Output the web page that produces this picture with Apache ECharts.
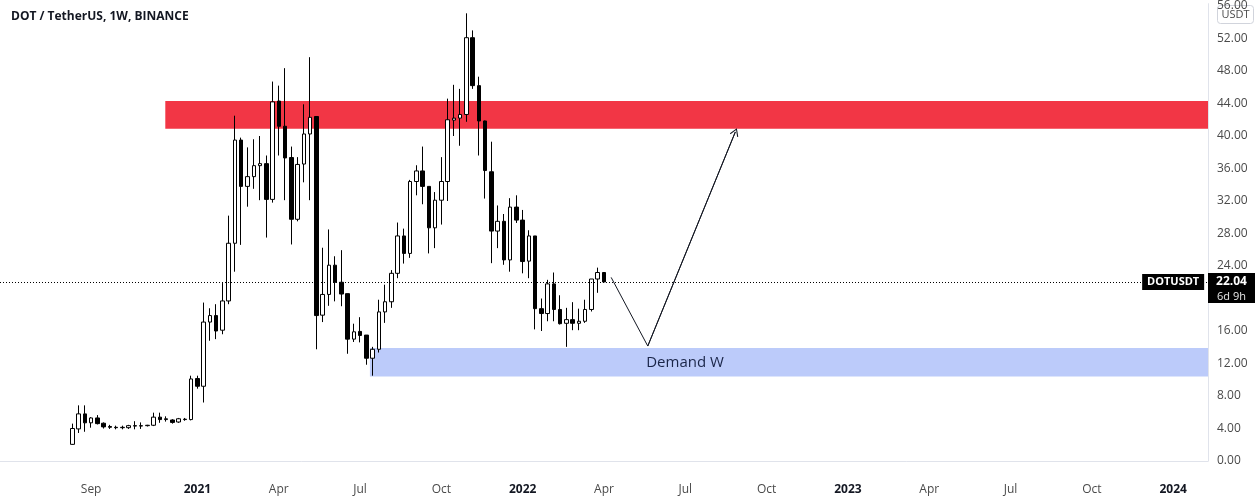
<!DOCTYPE html>
<html>
<head>
<meta charset="utf-8">
<title>DOT / TetherUS, 1W, BINANCE</title>
<script src="https://cdn.jsdelivr.net/npm/echarts@6/dist/echarts.min.js"></script>
<style>
  html, body { margin: 0; padding: 0; background: #fff; }
  #chart { width: 1260px; height: 504px; }
</style>
</head>
<body>
<div id="chart"></div>
<script>
// weekly candles, the first one opens on this Monday
const firstWeek = '2020-08-17';

const opens = [2.05, 3.95, 5.8, 4.7, 5.3, 4.65, 4.25, 4.15, 4.1, 4.1, 4.35, 4.3, 4.35, 4.4, 5.4, 5.1, 5.05, 4.8, 5.15, 5.1,
  10.15, 9.2, 17.1, 17.9, 16.1, 19.7, 26.8, 39.5, 33.8, 35.0,
  36.35, 36.6, 32.2, 44.3, 41.2, 37.35, 29.75, 36.55, 40.25, 42.4,
  17.95, 20.5, 24.1, 22.0, 20.6, 15.0, 15.95, 15.5, 12.65, 13.75,
  18.35, 19.6, 23.1, 27.7, 25.55, 34.4, 35.7, 33.8, 28.7, 32.1,
  34.4, 41.95, 42.2, 42.65, 52.1, 46.2, 41.85, 35.6, 28.3, 29.5,
  24.75, 31.25, 29.65, 24.6, 27.7, 18.75, 18.15, 21.8, 18.65, 16.95,
  17.4, 16.95, 17.2, 18.65, 22.4, 23.2];
const closes = [4.0, 5.8, 4.7, 5.3, 4.6, 4.2, 4.15, 4.1, 4.15, 4.35, 4.3, 4.35, 4.4, 5.4, 5.1, 5.2, 4.75, 5.2, 5.1, 10.1,
  9.2, 17.1, 17.9, 16.0, 19.7, 26.8, 39.5, 33.8, 35.0, 36.35,
  36.6, 32.2, 44.2, 41.2, 37.3, 29.75, 36.5, 40.25, 42.3, 17.9,
  20.5, 24.1, 22.0, 20.55, 15.0, 15.9, 15.45, 12.65, 13.75, 18.35,
  19.6, 23.1, 27.7, 25.55, 34.4, 35.7, 33.8, 28.7, 32.1, 34.4,
  42.0, 42.2, 42.65, 52.1, 46.2, 41.85, 35.75, 28.3, 29.5, 24.75,
  31.25, 29.65, 24.55, 27.7, 18.75, 18.15, 21.8, 18.65, 16.9, 17.4,
  16.95, 17.2, 18.65, 22.4, 23.2, 22.04];
const lows = [2.0, 3.45, 3.6, 4.1, 4.5, 4.0, 3.95, 3.9, 3.9, 3.95, 3.9, 3.95, 4.25, 4.3, 4.7, 4.85, 4.6, 4.7, 4.95, 5.0,
  8.9, 7.2, 14.8, 15.0, 15.6, 19.3, 23.3, 26.6, 31.3, 33.5,
  32.1, 27.5, 31.8, 37.6, 32.1, 26.65, 29.5, 34.3, 32.1, 13.75,
  17.1, 19.1, 19.65, 19.05, 13.2, 14.65, 14.6, 11.85, 10.5, 13.35,
  17.0, 18.85, 22.5, 24.3, 25.0, 32.7, 31.6, 25.55, 26.2, 29.1,
  32.0, 40.0, 38.8, 41.75, 45.8, 37.6, 32.3, 24.35, 26.2, 24.15,
  23.3, 29.3, 23.1, 22.5, 16.2, 16.0, 17.2, 17.2, 16.8, 14.05,
  16.1, 16.1, 17.0, 18.4, 20.7, 22.0];
const highs = [4.6, 6.85, 6.85, 5.4, 5.65, 4.75, 4.45, 4.35, 4.35, 4.45, 4.9, 4.75, 4.45, 5.95, 5.95, 5.5, 5.15, 5.3, 5.3, 10.5,
  10.5, 19.5, 18.8, 19.3, 21.9, 30.2, 42.5, 39.8, 38.6, 39.6,
  40.0, 37.6, 46.7, 46.2, 48.35, 38.7, 37.4, 43.9, 49.7, 42.4,
  26.25, 28.5, 25.2, 25.95, 20.6, 16.9, 17.7, 15.5, 14.05, 19.85,
  21.7, 23.5, 29.35, 28.6, 34.6, 36.4, 38.7, 33.8, 33.1, 37.4,
  44.6, 46.3, 45.8, 55.1, 53.0, 47.3, 41.9, 39.3, 31.45, 30.4,
  32.35, 32.7, 30.9, 28.4, 27.7, 20.0, 22.3, 23.2, 20.4, 18.85,
  19.55, 18.75, 19.85, 22.4, 23.8, 23.2];

// time scale labels (first weekly bar of each month shown)
const tickDates = ['2020-09-07', '2021-01-04', '2021-04-05', '2021-07-05', '2021-10-04', '2022-01-03', '2022-04-04',
  '2022-07-04', '2022-10-03', '2023-01-02', '2023-04-03', '2023-07-03', '2023-10-02', '2024-01-01'];
const tickLabels = ['Sep', '2021', 'Apr', 'Jul', 'Oct', '2022', 'Apr', 'Jul', 'Oct', '2023', 'Apr', 'Jul', 'Oct', '2024'];

// drawings
const supplyZone = { from: '2020-11-29', to: '2024-02-09', low: 40.9, high: 44.3 };
const demandZone = { from: '2021-07-16', to: '2024-02-09', low: 10.4, high: 13.9, text: 'Demand W' };
const projection = [['2022-04-12', 22.6], ['2022-05-23', 14.15], ['2022-08-29', 40.5]];
const lastPrice = 22.04;
const countdown = '6d 9h';
const symbolName = 'DOTUSDT';

const day = s => { const p = s.split('-').map(Number); return Date.UTC(p[0], p[1] - 1, p[2]); };
const WEEK = 7 * 24 * 3600 * 1000;
const start = day(firstWeek);
const candles = opens.map((o, i) => [start + i * WEEK, o, closes[i], lows[i], highs[i]]);
const tickTimes = tickDates.map(day);

const FONT = '"Open Sans", "DejaVu Sans", sans-serif';
const ink = '#131722';

const chart = echarts.init(document.getElementById('chart'), null, { renderer: 'canvas' });

chart.setOption({
  animation: false,
  backgroundColor: '#ffffff',
  title: {
    text: 'DOT / TetherUS, 1W, BINANCE',
    left: 6, top: 6,
    textStyle: { fontFamily: FONT, fontSize: 12, fontWeight: 'bold', color: ink }
  },
  grid: { left: 0, right: 52, top: 0, bottom: 43 },
  xAxis: {
    type: 'value',
    min: day('2020-05-28'),
    max: day('2024-02-09'),
    offset: 17,
    splitLine: { show: false },
    axisTick: { show: false },
    axisLine: { lineStyle: { color: '#e0e3eb' } },
    axisLabel: {
      customValues: tickTimes,
      margin: 6,
      fontFamily: FONT, fontSize: 12, color: '#4a4a4a',
      formatter: v => {
        const i = tickTimes.indexOf(v);
        if (i < 0) return '';
        const t = tickLabels[i];
        return /^\d{4}$/.test(t) ? '{y|' + t + '}' : t;
      },
      rich: { y: { fontFamily: FONT, fontSize: 12, fontWeight: 'bold', color: ink } }
    }
  },
  yAxis: {
    type: 'value',
    position: 'right',
    min: 0,
    max: 56.29,
    interval: 4,
    splitLine: { show: false },
    axisTick: { show: false },
    axisLine: { show: true, lineStyle: { color: '#e0e3eb' } },
    axisLabel: {
      margin: 9,
      fontFamily: FONT, fontSize: 12, color: '#4a4a4a',
      formatter: v => (Math.abs(v % 4) < 1e-6 ? v.toFixed(2) : '')
    }
  },
  series: [
    {
      name: 'DOTUSDT',
      type: 'candlestick',
      barWidth: 4,
      data: candles,
      itemStyle: {
        color: '#ffffff', color0: '#000000',
        borderColor: '#000000', borderColor0: '#000000',
        borderWidth: 1
      },
      markArea: {
        silent: true,
        data: [
          [
            { coord: [day(supplyZone.from), supplyZone.high], itemStyle: { color: '#f23645' } },
            { coord: [day(supplyZone.to), supplyZone.low] }
          ],
          [
            {
              coord: [day(demandZone.from), demandZone.high],
              name: demandZone.text,
              itemStyle: { color: '#bccbfa' },
              label: {
                show: true, position: ['37.6%', '50%'], align: 'center', verticalAlign: 'middle',
                fontFamily: FONT, fontSize: 15, color: '#1a2548'
              }
            },
            { coord: [day(demandZone.to), demandZone.low] }
          ]
        ]
      },
      markLine: {
        silent: true,
        symbol: ['none', 'none'],
        data: [
          {
            yAxis: lastPrice,
            lineStyle: { color: '#000000', type: [1, 2], width: 1 },
            label: {
              show: true, position: 'end', distance: 0,
              formatter: '{s| }\n{p|' + lastPrice.toFixed(2) + '}\n{c|' + countdown + '}',
              rich: {
                s: { height: 12, lineHeight: 12 },
                p: { width: 47, height: 18, lineHeight: 18, align: 'center', backgroundColor: '#000',
                  color: '#fff', fontFamily: FONT, fontSize: 12, fontWeight: 'bold' },
                c: { width: 47, height: 12, lineHeight: 12, align: 'center', backgroundColor: '#000',
                  color: '#e6e6e6', fontFamily: FONT, fontSize: 11 }
              }
            }
          }
        ]
      },
      markPoint: {
        silent: true,
        data: [
          {
            coord: [tickTimes[tickTimes.length - 1], lastPrice],
            symbol: 'rect', symbolSize: [62, 16],
            itemStyle: { color: '#000000' },
            label: { show: true, position: 'inside', formatter: symbolName,
              fontFamily: FONT, fontSize: 11, fontWeight: 'bold', color: '#ffffff' }
          }
        ]
      }
    },
    {
      name: 'projection',
      type: 'line',
      data: projection.map(p => [day(p[0]), p[1]]),
      symbol: 'none',
      lineStyle: { color: ink, width: 1 },
      markLine: {
        silent: true,
        symbol: ['none', 'path://M5,0 L10,8 L9,8.8 L5,2.2 L1,8.8 L0,8 Z'],
        symbolSize: [9, 8],
        lineStyle: { color: ink, width: 1, type: 'solid' },
        label: { show: false },
        data: [[
          { coord: [day(projection[1][0]), projection[1][1]] },
          { coord: [day(projection[2][0]), projection[2][1]] }
        ]]
      }
    }
  ],
  graphic: [
    {
      type: 'group', right: 6, top: 5,
      children: [
        { type: 'rect', shape: { x: 0, y: 0, width: 36, height: 18, r: 3 },
          style: { fill: '#ffffff', stroke: '#d1d4dc', lineWidth: 1 } },
        { type: 'text', x: 18, y: 9,
          style: { text: 'USDT', fontFamily: FONT, fontSize: 11, fill: '#4a4a4a', align: 'center', verticalAlign: 'middle' } }
      ]
    }
  ]
});
</script>
</body>
</html>
